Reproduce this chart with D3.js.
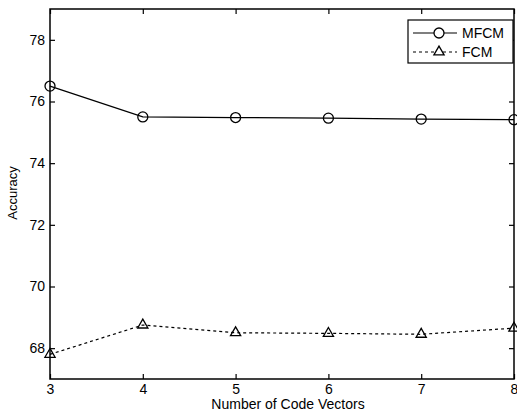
<!DOCTYPE html>
<html>
<head>
<meta charset="utf-8">
<script src="https://cdn.jsdelivr.net/npm/d3@7"></script>
<style>
  body { margin: 0; background: #fff; }
  svg { display: block; font-family: "Liberation Sans", Arial, sans-serif; }
  .axis path { display: none; }
  .axis line { stroke: #000; stroke-width: 1.2; }
  .axis text { fill: #000; font-size: 14px; }
</style>
</head>
<body>
<div id="chart"></div>
<script>
const width = 517;
const height = 418;

// データ
const codeVectors = [3, 4, 5, 6, 7, 8];
const mfcm = [76.5, 75.5, 75.48, 75.46, 75.43, 75.41];
const fcm = [67.8, 68.75, 68.5, 68.48, 68.45, 68.65];
const yTicks = [68, 70, 72, 74, 76, 78];
const seriesNames = ["MFCM", "FCM"];

const plot = {left: 50, right: 514, top: 9, bottom: 379};

const svg = d3.select("#chart")
    .append("svg")
    .attr("width", width)
    .attr("height", height);

const x = d3.scaleLinear()
    .domain([3, 8])
    .range([plot.left, plot.right]);
const y = d3.scaleLinear()
    .domain([67, 79])
    .range([plot.bottom, plot.top]);

// 軸（内向きの目盛り）
svg.append("g")
    .attr("class", "axis")
    .attr("transform", `translate(${plot.left},0)`)
    .call(d3.axisLeft(y).tickValues(yTicks).tickSizeInner(-5).tickSizeOuter(0).tickPadding(5));
svg.append("g")
    .attr("class", "axis")
    .attr("transform", `translate(${plot.right},0)`)
    .call(d3.axisRight(y).tickValues(yTicks).tickSizeInner(-5).tickSizeOuter(0).tickFormat(""));
svg.append("g")
    .attr("class", "axis")
    .attr("transform", `translate(0,${plot.bottom})`)
    .call(d3.axisBottom(x).tickValues(codeVectors).tickSizeInner(-5).tickSizeOuter(0).tickPadding(5).tickFormat(d3.format("d")));
svg.append("g")
    .attr("class", "axis")
    .attr("transform", `translate(0,${plot.top})`)
    .call(d3.axisTop(x).tickValues(codeVectors).tickSizeInner(-5).tickSizeOuter(0).tickFormat(""));

svg.append("rect")
    .attr("x", plot.left)
    .attr("y", plot.top)
    .attr("width", plot.right - plot.left)
    .attr("height", plot.bottom - plot.top)
    .attr("fill", "none")
    .attr("stroke", "#000")
    .attr("stroke-width", 1.5);

// 線
const line = d3.line()
    .x((d, i) => x(codeVectors[i]))
    .y((d) => y(d));

svg.append("path")
    .datum(mfcm)
    .attr("d", line)
    .attr("fill", "none")
    .attr("stroke", "#000")
    .attr("stroke-width", 1.2);

svg.append("path")
    .datum(fcm)
    .attr("d", line)
    .attr("fill", "none")
    .attr("stroke", "#000")
    .attr("stroke-width", 1.2)
    .attr("stroke-dasharray", "3,3");

const tri = d3.symbol().type(d3.symbolTriangle).size(45);

svg.selectAll(".mfcm-pt")
    .data(mfcm)
    .join("circle")
    .attr("cx", (d, i) => x(codeVectors[i]))
    .attr("cy", (d) => y(d))
    .attr("r", 5)
    .attr("fill", "none")
    .attr("stroke", "#000")
    .attr("stroke-width", 1.3);

svg.selectAll(".fcm-pt")
    .data(fcm)
    .join("path")
    .attr("d", tri)
    .attr("transform", (d, i) => `translate(${x(codeVectors[i])},${y(d)})`)
    .attr("fill", "none")
    .attr("stroke", "#000")
    .attr("stroke-width", 1.3);

// 軸ラベル
svg.append("text")
    .attr("x", (plot.left + plot.right) / 2 + 6)
    .attr("y", 409)
    .attr("text-anchor", "middle")
    .attr("font-size", 14)
    .text("Number of Code Vectors");

svg.append("text")
    .attr("transform", "translate(17,193) rotate(-90)")
    .attr("text-anchor", "middle")
    .attr("font-size", 13)
    .text("Accuracy");

// 凡例
const legend = svg.append("g").attr("transform", "translate(408,20)");
legend.append("rect")
    .attr("width", 105)
    .attr("height", 43)
    .attr("fill", "#fff")
    .attr("stroke", "#000")
    .attr("stroke-width", 1.2);

seriesNames.forEach((name, i) => {
    const row = legend.append("g").attr("transform", `translate(0,${13 + i * 19})`);
    row.append("line")
        .attr("x1", 5).attr("x2", 49)
        .attr("stroke", "#000")
        .attr("stroke-width", 1.2)
        .attr("stroke-dasharray", i === 0 ? null : "3,3");
    if (i === 0) {
        row.append("circle").attr("cx", 31).attr("r", 5)
            .attr("fill", "#fff").attr("stroke", "#000").attr("stroke-width", 1.3);
    } else {
        row.append("path").attr("d", tri).attr("transform", "translate(31,0)")
            .attr("fill", "#fff").attr("stroke", "#000").attr("stroke-width", 1.3);
    }
    row.append("text")
        .attr("x", 54)
        .attr("dy", "0.36em")
        .attr("font-size", 14)
        .text(name);
});
</script>
</body>
</html>
